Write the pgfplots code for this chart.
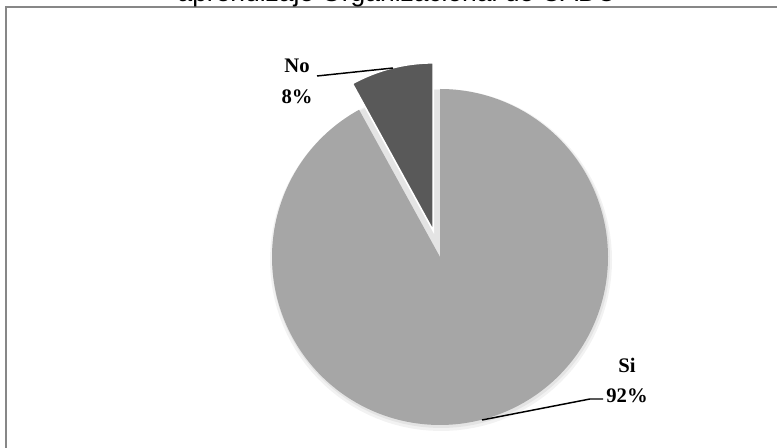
\documentclass[border=0pt]{standalone}
\usepackage{pgfplots}
\usepackage{pgfplotstable}
\usepackage{fontspec}
\pgfplotsset{compat=1.18}
\setmainfont{Liberation Serif}
\newfontfamily\arial{Liberation Sans}
\definecolor{siGray}{HTML}{A6A6A6}
\definecolor{noGray}{HTML}{595959}
\definecolor{frameGray}{HTML}{878787}

\pgfplotstableread{
label value
No 8
Si 92
}\piedata

\begin{document}
\begin{tikzpicture}
\pgfplotstablegetelem{0}{value}\of\piedata
\let\vNo\pgfplotsretval
\pgfmathsetmacro\aNo{90+3.6*\vNo}
\pgfmathsetmacro\aMid{(90+\aNo)/2}
\pgfmathsetmacro\nx{440+27*cos(\aMid)}
\pgfmathsetmacro\ny{191+27*sin(\aMid)}
\begin{axis}[name=ax, hide axis, scale only axis, width=582.75pt, height=336pt,
  xmin=0, xmax=777, ymin=0, ymax=448, clip=false]
% frame
\addplot[draw=frameGray, line width=1.5pt] coordinates {(5.5,-10) (5.5,440.5) (790,440.5)};
% soft shadow
\addplot[fill=black, fill opacity=0.05, draw=none, domain=0:360, samples=120, variable=\t]
  ({441+171*cos(\t)}, {188+171*sin(\t)}) -- cycle;
\addplot[fill=black, fill opacity=0.06, draw=none, domain=0:360, samples=120, variable=\t]
  ({441+169*cos(\t)}, {189+169*sin(\t)}) -- cycle;
% Si slice
\addplot[fill=siGray, draw=none, domain=\aNo:450, samples=200, variable=\t]
  ({440+168*cos(\t)}, {191+168*sin(\t)}) -- (axis cs:440,191) -- cycle;
% No slice (exploded)
\addplot[fill=noGray, draw=white, line width=1.2pt, domain=90:\aNo, samples=40, variable=\t]
  ({\nx+168*cos(\t)}, {\ny+168*sin(\t)}) -- (axis cs:\nx,\ny) -- cycle;
% leader lines
\addplot[black, line width=1.1pt] coordinates {(317,372) (393,380)};
\addplot[black, line width=1.1pt] coordinates {(482,28) (590,49) (603,49)};
% labels
\node[font=\bfseries\fontsize{15.5}{23}\selectfont, align=center] at (axis cs:297,366.5) {No\\8\%};
\node[font=\bfseries\fontsize{15.5}{23}\selectfont, align=center] at (axis cs:627,67.5) {Si\\92\%};
% title
\node[font=\arial\fontsize{19.8}{24}\selectfont, anchor=base] at (axis cs:397,446) {aprendizaje Organizacional de CADU};
\end{axis}
\pgfresetboundingbox
\useasboundingbox (ax.south west) rectangle (ax.north east);
\end{tikzpicture}
\end{document}
